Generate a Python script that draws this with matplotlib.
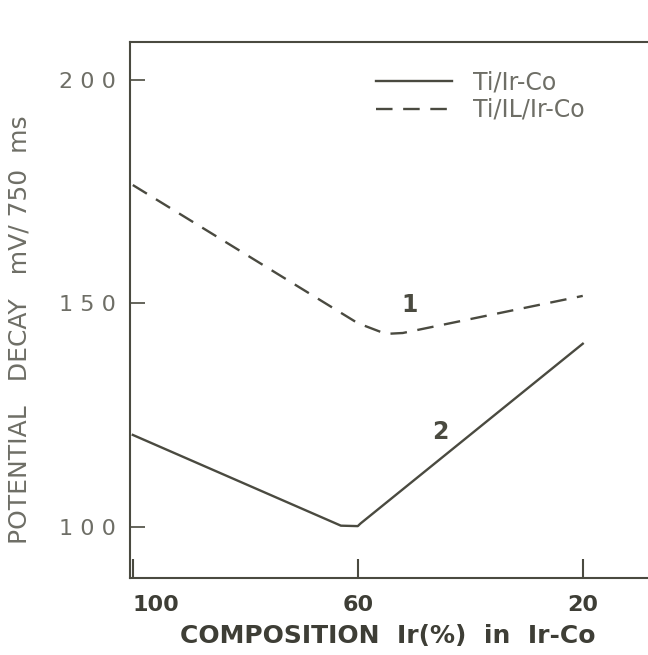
import matplotlib as mpl
import matplotlib.pyplot as plt

mpl.use("agg", force=True)

# composition Ir (%) and potential decay (mV / 750 ms)
ir_dashed = [100, 60, 55, 52, 20]
decay_dashed = [176.5, 145.6, 143.2, 143.4, 151.7]

ir_solid = [100, 63, 60, 59.5, 20]
decay_solid = [120.6, 100.3, 100.2, 100.8, 141]

xticks = [100, 60, 20]
xtick_labels = ['100', '60', '20']
yticks = [100, 150, 200]
ytick_labels = ['1 0 0', '1 5 0', '2 0 0']

ink = '#4a4a40'
dark = '#3e3e36'
grey = '#6e6e66'

plt.rcParams['font.family'] = ['DejaVu Sans']

fig = plt.figure(figsize=(6.48, 6.55), dpi=100)
ax = fig.add_axes([0.2006, 0.1176, 0.7994, 0.8183])

ax.plot(ir_solid, decay_solid, color=ink, lw=1.7, label='Ti/Ir-Co')
ax.plot(ir_dashed, decay_dashed, color=ink, lw=1.7, ls=(0, (7, 4.5)),
        label='Ti/IL/Ir-Co')

ax.set_xlim(100.5, 8.4)
ax.set_ylim(88.6, 208.5)

ax.set_xticks(xticks)
ax.set_xticklabels(xtick_labels, fontsize=16, fontweight='bold')
ax.get_xticklabels()[0].set_ha('left')
ax.set_yticks(yticks)
ax.set_yticklabels(ytick_labels, fontsize=16)

ax.tick_params(axis='x', direction='in', length=14, width=1.5, pad=12, colors=ink,
               labelcolor=dark)
ax.tick_params(axis='y', direction='in', length=11, width=1.2, pad=10, colors=ink,
               labelcolor=grey)

for side in ['left', 'bottom', 'top']:
    ax.spines[side].set_color(ink)
    ax.spines[side].set_linewidth(1.5)
ax.spines['right'].set_visible(False)

ax.set_xlabel('COMPOSITION  Ir(%)  in  Ir-Co', fontsize=18, fontweight='bold',
              color=dark, va='center')
ax.xaxis.set_label_coords(0.497, -0.108)
ax.set_ylabel('POTENTIAL   DECAY   mV/ 750  ms', fontsize=18, color=grey,
              va='center')
ax.yaxis.set_label_coords(-0.214, 0.463)

ax.text(50.8, 149.7, '1', fontsize=17, fontweight='bold', color=ink,
        ha='center', va='center')
ax.text(45.4, 121.3, '2', fontsize=17, fontweight='bold', color=ink,
        ha='center', va='center')

ax.legend(loc='upper left', bbox_to_anchor=(0.4575, 0.9646), borderaxespad=0,
          frameon=False, fontsize=17, handlelength=3.2, handletextpad=0.9,
          labelspacing=0.15, labelcolor=grey)

plt.savefig('out.png', dpi=100)
plt.close()
